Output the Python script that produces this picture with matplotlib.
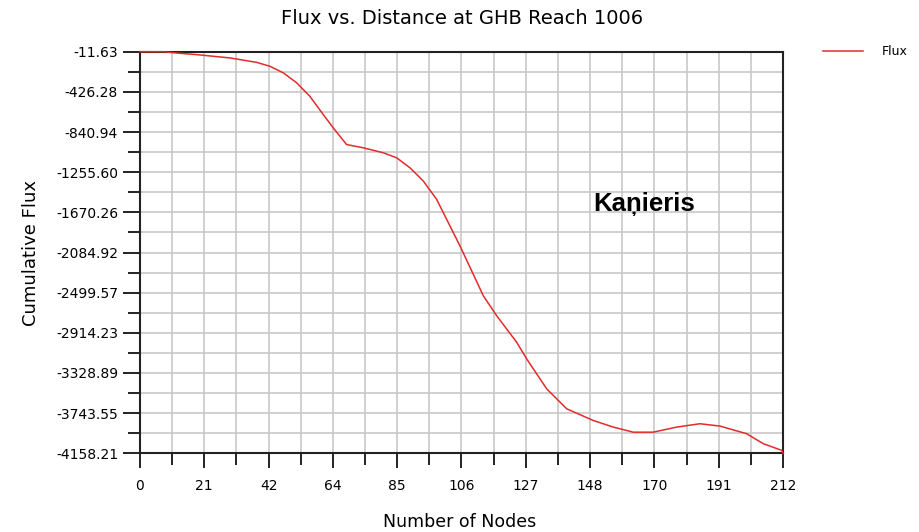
import matplotlib
matplotlib.use("Agg")
import matplotlib.pyplot as plt
from matplotlib.ticker import FixedLocator

# ---- data ----
nodes = [0, 8, 12, 18.7, 29.7, 38.5, 42.9, 47.3, 51.7, 56, 60.4, 63.7, 68.1,
         73.6, 80.2, 84.6, 89, 93.4, 97.8, 102.2, 105.5, 113.2, 117.6, 124.2,
         127.5, 134.1, 140.7, 149.5, 156.1, 162.6, 169.2, 176.9, 184.6, 191.2,
         200, 205.5, 211.6, 212]
flux = [-11.63, -12, -25, -42, -76, -122, -163, -231, -334, -472, -660, -797, -970,
        -1004, -1055, -1107, -1210, -1347, -1536, -1811, -2017, -2532, -2738, -3012,
        -3184, -3493, -3699, -3820, -3888, -3940, -3940, -3888, -3853, -3877,
        -3956, -4059, -4128, -4158.21]

xtick_pos = [0, 21.2, 42.4, 63.6, 84.8, 106, 127.2, 148.4, 169.6, 190.8, 212]
xtick_labels = ['0', '21', '42', '64', '85', '106', '127', '148', '170', '191', '212']
ytick_pos = [-11.63, -426.28, -840.94, -1255.60, -1670.26, -2084.92, -2499.57,
             -2914.23, -3328.89, -3743.55, -4158.21]
ytick_labels = ['-11.63', '-426.28', '-840.94', '-1255.60', '-1670.26', '-2084.92',
                '-2499.57', '-2914.23', '-3328.89', '-3743.55', '-4158.21']

title = "Flux vs. Distance at GHB Reach 1006"
xlabel = "Number of Nodes"
ylabel = "Cumulative Flux"
series_name = "Flux"
annotation = "Kaņieris"

# ---- figure ----
W, H = 920, 532
fig = plt.figure(figsize=(W / 100, H / 100), dpi=100)
ax = fig.add_axes([140 / W, 1 - 453.3 / H, (783 - 140) / W, (453.3 - 51.7) / H])

line, = ax.plot(nodes, flux, color='#e32b2b', lw=1.1, zorder=3, clip_on=False)

ax.set_xlim(xtick_pos[0], xtick_pos[-1])
ax.set_ylim(ytick_pos[-1], ytick_pos[0])

ax.xaxis.set_major_locator(FixedLocator(xtick_pos))
ax.set_xticklabels(xtick_labels)
ax.yaxis.set_major_locator(FixedLocator(ytick_pos))
ax.set_yticklabels(ytick_labels)
xminor = [(a + b) / 2 for a, b in zip(xtick_pos[:-1], xtick_pos[1:])]
yminor = [(a + b) / 2 for a, b in zip(ytick_pos[:-1], ytick_pos[1:])]
ax.xaxis.set_minor_locator(FixedLocator(xminor))
ax.yaxis.set_minor_locator(FixedLocator(yminor))

ax.grid(True, which='both', color='#c8c8c8', lw=1.2, zorder=0)
ax.set_axisbelow(True)

for s in ax.spines.values():
    s.set_linewidth(1.5)
    s.set_color('#222222')

ax.tick_params(axis='x', which='major', direction='out', length=10.8, width=1.4,
               pad=8, labelsize=10, color='#222222')
ax.tick_params(axis='x', which='minor', direction='out', length=8.4, width=1.4,
               color='#222222')
ax.tick_params(axis='y', which='major', direction='out', length=12.2, width=1.4,
               pad=3.6, labelsize=10, color='#222222')
ax.tick_params(axis='y', which='minor', direction='out', length=8.6, width=1.4,
               color='#222222')

ax.set_xlabel(xlabel, fontsize=12.5)
ax.xaxis.set_label_coords(0.4977, -0.1487)
ax.set_ylabel(ylabel, fontsize=13)
ax.yaxis.set_label_coords(-0.156, 0.5)

fig.text(462 / W, 1 - 18 / H, title, fontsize=14, ha='center', va='center')

ax.text(0.784, 0.621, annotation, transform=ax.transAxes, fontsize=18.5,
        fontweight='bold', family=['Liberation Sans', 'DejaVu Sans'],
        ha='center', va='center')

leg = fig.legend([line], [series_name], loc='center left',
                 bbox_to_anchor=(823 / W, 1 - 51.7 / H), frameon=False,
                 fontsize=9, handlelength=3.2, handletextpad=1.5,
                 borderpad=0, borderaxespad=0)

fig.savefig('out.png', dpi=100)
